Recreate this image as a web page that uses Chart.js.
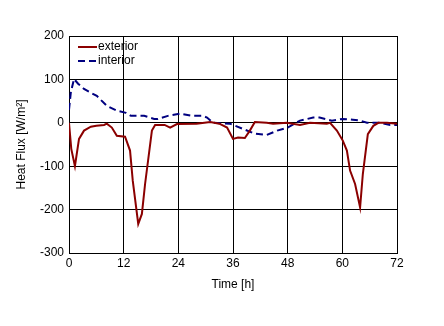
<!DOCTYPE html>
<html>
<head>
<meta charset="utf-8">
<script src="https://cdn.jsdelivr.net/npm/chart.js@4/dist/chart.umd.min.js"></script>
<style>
  body { margin: 0; background: #fff; }
</style>
</head>
<body>
<canvas id="fluxChart" width="444" height="326"></canvas>
<script>
// values
const extHours = [0, 0.5, 1.3, 2.2, 3.3, 4.8, 6, 7.7, 8.3, 9.4, 10.5, 12.3, 13.4, 14, 15.2, 16, 16.7, 18.2, 18.9, 21, 22.2, 23.7, 28, 31, 33, 34.7, 36, 37.1, 38.6, 39.7, 40.8, 43.4, 44.8, 47.8, 50.7, 52.9, 56.6, 57.3, 58.8, 60.1, 61, 61.7, 62.8, 63.9, 64.5, 65.6, 66.8, 67.9, 69.8, 72];
const exterior = [0, -60, -100, -37, -18, -9, -7, -5, -2, -11, -30, -32, -64, -134, -233, -210, -141, -18, -5, -5, -11, -3, -2, 2, -2, -11, -37, -34, -35, -18, 2, 0, -2, 0, -5, 0, -2, 0, -18, -41, -64, -110, -141, -195, -118, -26, -7, 0, 0, -2];

const intHours = [0, 0.4, 1.1, 2, 3.3, 4.8, 6.1, 8.3, 10.5, 12.5, 13.6, 16.5, 18.7, 19.5, 21.7, 24.4, 27.2, 29.4, 30.3, 31.6, 35.3, 38.2, 40.8, 43.4, 45.7, 48, 50.7, 53.6, 55, 57.7, 60.1, 62.3, 63.9, 65.4, 68.3, 70.5, 72];
const interior = [30, 70, 101, 90, 78, 69, 62, 39, 28, 23, 16, 16, 9, 9, 16, 21, 16, 16, 12, 0, -2, -14, -25, -28, -18, -11, 5, 12, 12, 5, 9, 7, 5, 0, 0, -5, -5];

const seriesNames = ["exterior", "interior"];
const xTicks = [0, 12, 24, 36, 48, 60, 72];
const yTicks = [-300, -200, -100, 0, 100, 200];

const fontFamily = "'Liberation Sans', Arial, sans-serif";
const toPoints = (xs, ys) => xs.map((x, i) => ({ x: x, y: ys[i] }));

// small legend drawn inside the plot, top left
const innerLegend = {
  id: "innerLegend",
  afterDraw(chart) {
    const ctx = chart.ctx;
    const area = chart.chartArea;
    ctx.save();
    ctx.font = "12px " + fontFamily;
    ctx.textBaseline = "middle";
    chart.data.datasets.forEach((ds, i) => {
      const y = area.top + 11 + i * 14;
      const x = area.left + 9;
      ctx.strokeStyle = ds.borderColor;
      ctx.lineWidth = 2;
      ctx.setLineDash(ds.borderDash || []);
      ctx.beginPath();
      ctx.moveTo(x, y);
      ctx.lineTo(x + 19, y);
      ctx.stroke();
      ctx.setLineDash([]);
      ctx.fillStyle = "#000";
      ctx.fillText(ds.label, x + 20, y);
    });
    ctx.restore();
  },
};

const ctx = document.getElementById("fluxChart").getContext("2d");
new Chart(ctx, {
  type: "line",
  data: {
    datasets: [
      {
        label: seriesNames[0],
        data: toPoints(extHours, exterior),
        borderColor: "#8b0000",
        borderWidth: 2,
        pointRadius: 0,
        tension: 0,
      },
      {
        label: seriesNames[1],
        data: toPoints(intHours, interior),
        borderColor: "#000080",
        borderWidth: 2,
        borderDash: [7, 4],
        pointRadius: 0,
        tension: 0,
      },
    ],
  },
  options: {
    responsive: false,
    animation: false,
    layout: { padding: { left: 0, right: 47, top: 36, bottom: 0 } },
    plugins: {
      legend: { display: false },
      tooltip: { enabled: false },
    },
    scales: {
      x: {
        type: "linear",
        min: 0,
        max: 72,
        afterBuildTicks: (scale) => { scale.ticks = xTicks.map((v) => ({ value: v })); },
        afterFit: (scale) => { scale.height = 73; },
        grid: { color: "#000", lineWidth: 1, drawTicks: false },
        border: { color: "#000", width: 1 },
        ticks: {
          color: "#000",
          padding: 3,
          maxRotation: 0,
          font: { family: fontFamily, size: 12 },
        },
        title: {
          display: true,
          text: "Time [h]",
          color: "#000",
          padding: { top: 0, bottom: 34 },
          font: { family: fontFamily, size: 12 },
        },
      },
      y: {
        min: -300,
        max: 200,
        afterBuildTicks: (scale) => { scale.ticks = yTicks.map((v) => ({ value: v })); },
        afterFit: (scale) => { scale.width = 69; },
        grid: { color: "#000", lineWidth: 1, drawTicks: false },
        border: { color: "#000", width: 1 },
        ticks: {
          color: "#000",
          padding: 5,
          font: { family: fontFamily, size: 12 },
        },
        title: {
          display: true,
          text: "Heat Flux [W/m²]",
          color: "#000",
          padding: { top: 14, bottom: 0 },
          font: { family: fontFamily, size: 12 },
        },
      },
    },
  },
  plugins: [innerLegend],
});
</script>
</body>
</html>
